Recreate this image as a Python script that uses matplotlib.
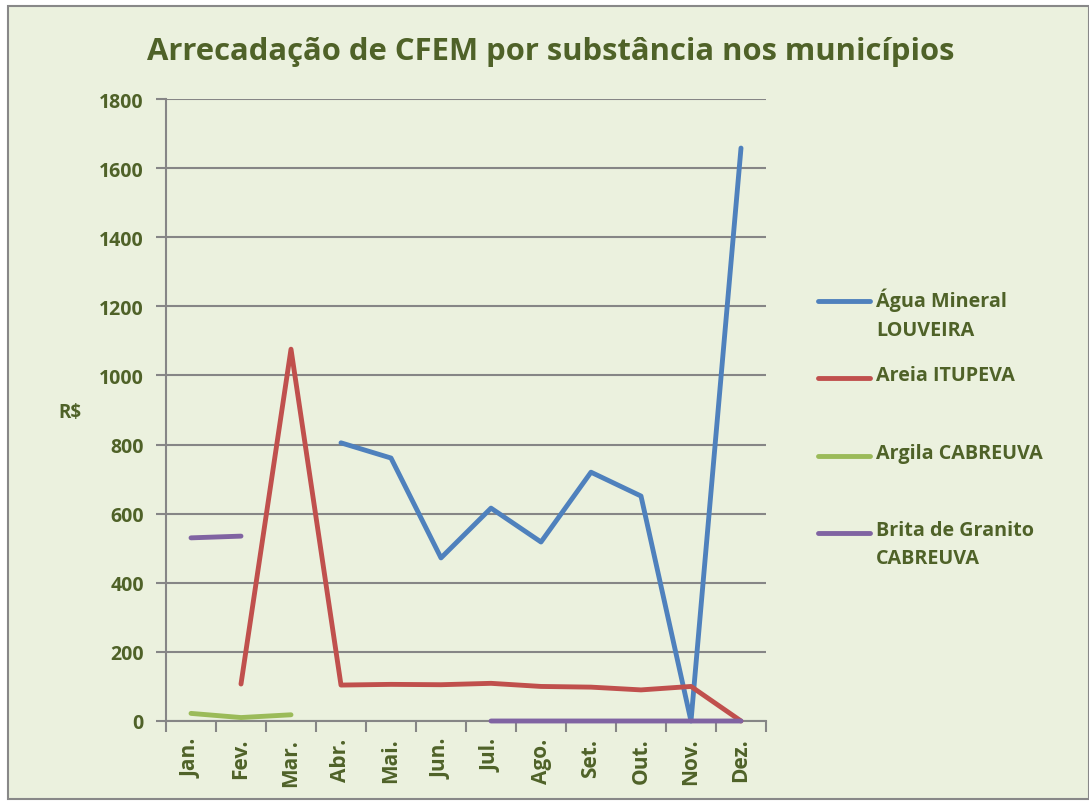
import numpy as np
import matplotlib
matplotlib.use("Agg")
import matplotlib.pyplot as plt
from matplotlib.lines import Line2D
from matplotlib.patches import Rectangle

meses = ["Jan.", "Fev.", "Mar.", "Abr.", "Mai.", "Jun.", "Jul.", "Ago.", "Set.", "Out.", "Nov.", "Dez."]
nan = np.nan
agua_louveira = [nan, nan, nan, 805, 761, 472, 616, 518, 720, 651, 0, 1658]
areia_itupeva = [nan, 107, 1076, 104, 106, 105, 109, 100, 98, 90, 100, 0]
argila_cabreuva = [22, 10, 18, nan, nan, nan, nan, nan, nan, nan, nan, nan]
brita_cabreuva = [530, 535, nan, nan, nan, nan, 0, 0, 0, 0, 0, 0]

series = [
    ("Água Mineral\nLOUVEIRA", agua_louveira, "#4F81BD"),
    ("Areia ITUPEVA", areia_itupeva, "#C0504D"),
    ("Argila CABREUVA", argila_cabreuva, "#9BBB59"),
    ("Brita de Granito\nCABREUVA", brita_cabreuva, "#8064A2"),
]

txt = "#4F6228"
bg = "#EBF1DE"
grid = "#868686"
plt.rcParams['font.family'] = ['Open Sans', 'DejaVu Sans']

fig = plt.figure(figsize=(10.89, 8.03), dpi=100)
fig.patch.set_facecolor("white")
fig.patches.append(Rectangle((8 / 1089, 3 / 803), 1 - 8 / 1089, 1 - 10 / 803, transform=fig.transFigure,
                             facecolor=bg, edgecolor="#888888", linewidth=1.5, zorder=-1))

ax = fig.add_axes([166 / 1089, 1 - 722 / 803, 600 / 1089, 622 / 803])
ax.set_facecolor("none")

x = np.arange(len(meses))
for nome, vals, cor in series:
    ax.plot(x, vals, color=cor, linewidth=3.5, solid_capstyle="round", zorder=4, clip_on=False)

ax.set_xlim(-0.5, 11.5)
ax.set_ylim(0, 1800)
ax.set_yticks(np.arange(0, 1801, 200))
ax.yaxis.grid(True, color=grid, linewidth=1.5)
ax.set_axisbelow(True)
ax.set_xticks(x)
ax.set_xticklabels(meses, rotation=90, fontsize=15, fontweight="bold", color=txt)
ax.set_xticks(np.arange(-0.5, 12, 1), minor=True)
ax.tick_params(axis="x", which="major", length=0, pad=12)
ax.tick_params(axis="x", which="minor", length=8, width=1.5, color=grid)
ax.tick_params(axis="y", length=7, width=1.5, color=grid, labelsize=14, labelcolor=txt, pad=9)
for lab in ax.get_yticklabels():
    lab.set_fontweight("bold")
for s in ["top", "right"]:
    ax.spines[s].set_visible(False)
for s in ["left", "bottom"]:
    ax.spines[s].set_color(grid)
    ax.spines[s].set_linewidth(1.5)

fig.text(551 / 1089, 1 - 52 / 803, "Arrecadação de CFEM por substância nos municípios",
         ha="center", va="center", fontsize=22.3, fontweight="bold", color=txt)
fig.text(70 / 1089, 1 - 413 / 803, "R$", ha="center", va="center", fontsize=13.5,
         fontweight="bold", color=txt)

# legend, handle aligned with first text line
leg_y = [302, 379, 457, 534]
for (nome, vals, cor), yy in zip(series, leg_y):
    fy = 1 - yy / 803
    fig.lines.append(Line2D([818 / 1089, 870 / 1089], [fy, fy], transform=fig.transFigure,
                            color=cor, linewidth=3.5, solid_capstyle="round"))
    fig.text(876 / 1089, fy + 13 / 803, nome, ha="left", va="top", fontsize=14.2,
             fontweight="bold", color=txt, linespacing=1.55)

fig.savefig("out.png", dpi=100)
